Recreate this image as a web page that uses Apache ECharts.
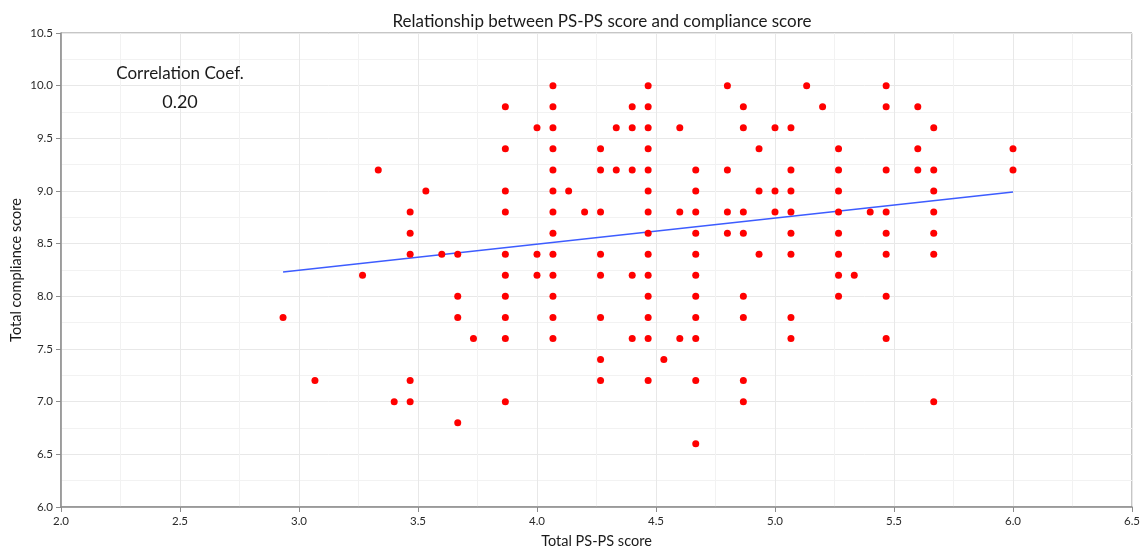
<!DOCTYPE html>
<html>
<head>
<meta charset="utf-8">
<title>Relationship between PS-PS score and compliance score</title>
<script src="https://cdn.jsdelivr.net/npm/echarts@6/dist/echarts.min.js"></script>
<style>
  html, body { margin: 0; padding: 0; background: #ffffff; }
  #chart { width: 1142px; height: 550px; }
</style>
</head>
<body>
<div id="chart"></div>
<script>
// Distinct PS-PS scores (x) and the compliance scores observed at each one (y)
const psScores = [
  2.933, 3.067, 3.267, 3.333, 3.4, 3.467, 3.533, 3.6, 3.667, 3.733,
  3.867, 4.0, 4.067, 4.133, 4.2, 4.267, 4.333, 4.4, 4.467, 4.533,
  4.6, 4.667, 4.8, 4.867, 4.933, 5.0, 5.067, 5.133, 5.2, 5.267,
  5.333, 5.4, 5.467, 5.6, 5.667, 6.0
];
const complianceByScore = [
  [7.8],
  [7.2],
  [8.2],
  [9.2],
  [7.0],
  [8.8, 8.6, 8.4, 7.2, 7.0],
  [9.0],
  [8.4],
  [8.4, 8.0, 7.8, 6.8],
  [7.6],
  [9.8, 9.4, 9.0, 8.8, 8.4, 8.2, 8.0, 7.8, 7.6, 7.0],
  [9.6, 8.4, 8.2],
  [10.0, 9.8, 9.6, 9.4, 9.2, 9.0, 8.8, 8.6, 8.4, 8.2, 8.0, 7.8, 7.6],
  [9.0],
  [8.8],
  [9.4, 9.2, 8.8, 8.4, 8.2, 7.8, 7.4, 7.2],
  [9.6, 9.2],
  [9.8, 9.6, 9.2, 8.2, 7.6],
  [10.0, 9.8, 9.6, 9.4, 9.2, 9.0, 8.8, 8.6, 8.4, 8.2, 8.0, 7.8, 7.6, 7.2],
  [7.4],
  [9.6, 8.8, 7.6],
  [9.2, 9.0, 8.8, 8.6, 8.4, 8.2, 8.0, 7.8, 7.6, 7.2, 6.6],
  [10.0, 9.2, 8.8, 8.6],
  [9.8, 9.6, 8.8, 8.6, 8.0, 7.8, 7.2, 7.0],
  [9.4, 9.0, 8.4],
  [9.6, 9.0, 8.8],
  [9.6, 9.2, 9.0, 8.8, 8.6, 8.4, 7.8, 7.6],
  [10.0],
  [9.8],
  [9.4, 9.2, 9.0, 8.8, 8.6, 8.4, 8.2, 8.0],
  [8.2],
  [8.8],
  [10.0, 9.8, 9.2, 8.8, 8.6, 8.4, 8.0, 7.6],
  [9.8, 9.4, 9.2],
  [9.6, 9.2, 9.0, 8.8, 8.6, 8.4, 7.0],
  [9.4, 9.2]
];

// Fitted trend line endpoints (x, y)
const trendX = [2.933, 6.0];
const trendY = [8.23, 8.99];

// Correlation annotation
const corrLabel = 'Correlation Coef.';
const corrValue = '0.20';
const corrAnchor = [2.5, 10.12];
const corrValueAnchor = [2.5, 9.84];

const xTicks = { min: 2.0, max: 6.5, interval: 0.5 };
const yTicks = { min: 6.0, max: 10.5, interval: 0.5 };

const points = [];
psScores.forEach((x, i) => {
  complianceByScore[i].forEach(y => points.push([x, y]));
});
const trend = trendX.map((x, i) => [x, trendY[i]]);

const FONT = 'Lato, "DejaVu Sans", sans-serif';
const axisColor = '#8c8c8c';
const textColor = '#1a1a1a';

const chart = echarts.init(document.getElementById('chart'), null, { renderer: 'canvas' });

chart.setOption({
  backgroundColor: '#ffffff',
  animation: false,
  title: {
    text: 'Relationship between PS-PS score and compliance score',
    left: 597,
    top: 8,
    textAlign: 'center',
    textStyle: { fontFamily: FONT, fontSize: 17, fontWeight: 'normal', color: textColor }
  },
  grid: {
    left: 61, right: 10, top: 33, bottom: 43,
    containLabel: false,
    outerBoundsMode: 'none',
    show: true, borderColor: axisColor, borderWidth: 1
  },
  xAxis: {
    type: 'value',
    min: xTicks.min, max: xTicks.max, interval: xTicks.interval,
    name: 'Total PS-PS score',
    nameLocation: 'middle',
    nameGap: 27,
    nameMoveOverlap: false,
    nameTextStyle: { fontFamily: FONT, fontSize: 14.5, color: textColor },
    axisLine: { show: true, lineStyle: { color: axisColor, width: 1.5 } },
    axisTick: { show: true, length: 5, lineStyle: { color: axisColor } },
    axisLabel: { fontFamily: FONT, fontSize: 11.5, color: '#2a2a2a', margin: 8,
      formatter: v => v.toFixed(1) },
    splitLine: { show: true, lineStyle: { color: '#e8e8e8', width: 1 } },
    minorTick: { show: false, splitNumber: 2 },
    minorSplitLine: { show: true, lineStyle: { color: '#f2f2f2', width: 1 } }
  },
  yAxis: {
    type: 'value',
    min: yTicks.min, max: yTicks.max, interval: yTicks.interval,
    name: 'Total compliance score',
    nameLocation: 'middle',
    nameGap: 37,
    nameMoveOverlap: false,
    nameTextStyle: { fontFamily: FONT, fontSize: 14.5, color: textColor },
    axisLine: { show: true, lineStyle: { color: axisColor, width: 1.5 } },
    axisTick: { show: true, length: 5, lineStyle: { color: axisColor } },
    axisLabel: { fontFamily: FONT, fontSize: 11.5, color: '#2a2a2a', margin: 8,
      formatter: v => v.toFixed(1) },
    splitLine: { show: true, lineStyle: { color: '#e8e8e8', width: 1 } },
    minorTick: { show: false, splitNumber: 2 },
    minorSplitLine: { show: true, lineStyle: { color: '#f2f2f2', width: 1 } }
  },
  series: [
    {
      name: 'Scores',
      type: 'scatter',
      data: points,
      symbol: 'circle',
      symbolSize: 7,
      itemStyle: { color: '#ff0000', opacity: 1 },
      z: 3
    },
    {
      name: 'Trend',
      type: 'line',
      data: trend,
      showSymbol: false,
      symbol: 'none',
      lineStyle: { color: '#3d5cff', width: 1.5 },
      z: 2
    },
    {
      name: 'Annotation',
      type: 'scatter',
      symbolSize: 0,
      silent: true,
      itemStyle: { opacity: 1 },
      data: [
        { value: corrAnchor, label: { formatter: corrLabel, fontSize: 17 } },
        { value: corrValueAnchor, label: { formatter: corrValue, fontSize: 18 } }
      ],
      label: {
        show: true,
        position: 'inside',
        fontFamily: FONT,
        color: textColor
      },
      z: 4
    }
  ]
});
</script>
</body>
</html>
